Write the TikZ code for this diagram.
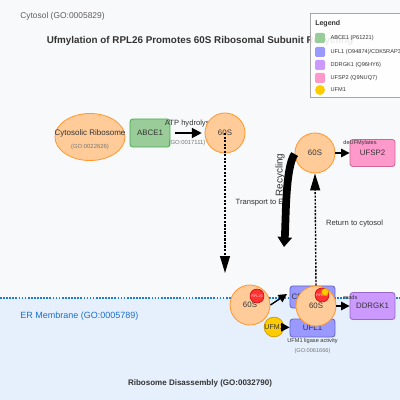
\documentclass[tikz,border=0pt]{standalone}
\usepackage{fontspec}
\setmainfont{Liberation Sans}
\usepackage{xcolor}
\usetikzlibrary{shapes,arrows.meta,positioning,calc}

\definecolor{bgcol}{HTML}{F8F9FB}
\definecolor{ercol}{HTML}{E6F0FC}
\definecolor{memcol}{HTML}{1E7BD8}
\definecolor{erlbl}{HTML}{1A6FD0}
\definecolor{ribofill}{HTML}{FFCC99}
\definecolor{riboline}{HTML}{FF9933}
\definecolor{abcefill}{HTML}{99CC99}
\definecolor{abceline}{HTML}{4CAF50}
\definecolor{uflfill}{HTML}{9999FF}
\definecolor{uflline}{HTML}{6666CC}
\definecolor{ddrfill}{HTML}{CC99FF}
\definecolor{ddrline}{HTML}{9966CC}
\definecolor{ufspfill}{HTML}{FF99CC}
\definecolor{ufspline}{HTML}{CC6699}
\definecolor{ufmfill}{HTML}{FFCC00}
\definecolor{ufmline}{HTML}{CC9900}
\definecolor{rplfill}{HTML}{FF3333}
\definecolor{rplline}{HTML}{CC0000}
\definecolor{txtcol}{HTML}{333333}
\definecolor{gocol}{HTML}{777777}

\begin{document}
\begin{tikzpicture}[x=0.025cm, y=-0.025cm,
    ribo/.style={circle, draw=riboline, fill=ribofill, line width=0.6pt, minimum size=1cm, inner sep=0pt, text=txtcol, font=\fontsize{5.6}{6.5}\selectfont},
    prot/.style={rectangle, rounded corners=2pt, line width=0.6pt, minimum width=1.125cm, minimum height=0.675cm, inner sep=0pt, text=txtcol, font=\fontsize{5.6}{6.5}\selectfont},
    rpl/.style={circle, draw=rplline, fill=rplfill, line width=0.4pt, minimum size=0.35cm, inner sep=0pt, text=white!80!rplfill, font=\fontsize{2.6}{3}\selectfont},
    golbl/.style={text=gocol, inner sep=0pt, font=\fontsize{4.2}{5}\selectfont},
    edgelbl/.style={text=txtcol, inner sep=0pt, font=\fontsize{5.4}{6}\selectfont},
    smalllbl/.style={text=txtcol, inner sep=0pt, font=\fontsize{4}{5}\selectfont},
    legbox/.style={rectangle, rounded corners=1pt, minimum size=0.25cm, inner sep=0pt},
    legtext/.style={text=txtcol, inner sep=0pt, font=\fontsize{4}{5}\selectfont},
    fatarrow/.style={line width=1.4pt, -{Triangle[length=7pt,width=7pt]}},
    dotarrow/.style={line width=1pt, dash pattern=on 1.5pt off 1pt, -{Triangle[length=12pt,width=7pt]}},
    midarrow/.style={line width=1pt, -{Triangle[length=6pt,width=6pt]}},
    recarrow/.style={line width=5.5pt, -{Triangle[length=7pt,width=10pt]}},
  ]
  % Background and compartments
  \fill[bgcol] (0,0) rectangle (400,400);
  \useasboundingbox (0,0) rectangle (400,400);
  \clip (0,0) rectangle (400,400);
  \fill[ercol] (0,298) rectangle (400,400);
  \draw[memcol, line width=1.4pt, dash pattern=on 1.2pt off 1pt] (0,298) -- (400,298);

  % Compartment labels and title
  \node[anchor=west, inner sep=0pt, text=gocol!80!black, font=\fontsize{6}{7}\selectfont] (cytosol) at (20,16) {Cytosol (GO:0005829)};
  \node[inner sep=0pt, text=txtcol, font=\bfseries\fontsize{7}{8}\selectfont] (title) at (200,41) {Ufmylation of RPL26 Promotes 60S Ribosomal Subunit Recycling};
  \node[anchor=west, inner sep=0pt, text=erlbl, font=\fontsize{6.4}{7}\selectfont] (erlabel) at (20,316) {ER Membrane (GO:0005789)};
  \node[inner sep=0pt, text=txtcol, font=\bfseries\fontsize{5.7}{7}\selectfont] (disasm) at (200,383) {Ribosome Disassembly (GO:0032790)};

  % Cytosolic ribosome and ABCE1
  \node[ribo, ellipse, minimum width=1.75cm, minimum height=1.175cm] (cytoribo) at (90,137) {};
  \node[inner sep=0pt, text=txtcol, font=\fontsize{5.7}{6.5}\selectfont] (cytolbl) at (90,133) {Cytosolic Ribosome};
  \node[golbl] (cytogo) at (90,147) {(GO:0022626)};
  \node[prot, fill=abcefill, draw=abceline, minimum width=1cm, minimum height=0.7cm] (abce) at (150,133) {ABCE1};
  \node[edgelbl] (atplbl) at (190,124) {ATP hydrolysis};
  \node[golbl] (atpgo) at (187,143) {(GO:0017111)};
  \node[ribo] (sixty1) at (225,133) {60S};
  \draw[fatarrow, shorten <=3.5pt, shorten >=2pt] (abce) -- (sixty1);

  % Transport to ER
  \coordinate (ertip) at (225,273);
  \draw[dotarrow] (sixty1.center) -- (ertip) node[edgelbl, midway, right=0.25cm] (translbl) {Transport to ER};

  % Recycled subunit and UFSP2
  \node[prot, fill=ufspfill, draw=ufspline] (ufsp) at (372.5,153) {UFSP2};
  \node[ribo] (sixty2) at (315,153) {60S};
  \draw[midarrow] (sixty2) -- (ufsp);
  \node[smalllbl] (delbl) at (360,143) {deUFMylates};

  % ER membrane complex
  \node[prot, fill=uflfill, draw=uflline, minimum height=0.55cm] (cdk) at (312.5,297) {CDK5RAP3};
  \node[prot, fill=uflfill, draw=uflline, minimum height=0.45cm] (ufl) at (312.5,328) {UFL1};
  \node[smalllbl] (ufllbl) at (312.5,341) {UFM1 ligase activity};
  \node[golbl, font=\fontsize{4}{5}\selectfont] (uflgo) at (312.5,351) {(GO:0061666)};
  \node[prot, fill=ddrfill, draw=ddrline] (ddrgk) at (372.5,306) {DDRGK1};
  \node[smalllbl, anchor=west] (readlbl) at (343,297) {reads};

  \node[ribo] (sixty3) at (250,305) {60S};
  \node[rpl] (rpla) at (257,296) {RPL26};
  \coordinate (cdktip) at (287,294);
  \draw[midarrow] (sixty3.east) -- (cdktip);

  \node[circle, draw=ufmline, fill=ufmfill, line width=0.5pt, minimum size=0.45cm, inner sep=0pt, text=txtcol, font=\fontsize{5}{6}\selectfont] (ufm) at (274,327) {UFM1};
  \draw[midarrow] (ufm) -- (ufl);

  \node[ribo] (sixty4) at (316,306) {60S};
  \node[rpl] (rplb) at (322,295) {RPL26};
  \node[circle, fill=ufmfill, draw=ufmline, line width=0.3pt, minimum size=0.175cm, inner sep=0pt] (ufmdot) at (325,292) {};
  \draw[midarrow] (sixty4) -- (ddrgk);

  % Return to cytosol
  \draw[dotarrow] (sixty4.north) -- (sixty2.south) node[edgelbl, pos=0.55, right=0.25cm] (retlbl) {Return to cytosol};

  % Recycling
  \coordinate (rectip) at (284,247);
  \draw[recarrow] (sixty2.183) .. controls (285,168) and (286,222) .. (rectip);
  \node[rotate=90, inner sep=0pt, text=txtcol, font=\fontsize{7}{8}\selectfont] (reclbl) at (280,175) {Recycling};

  % Legend
  \draw[draw=gray!70, fill=white, fill opacity=0.9, line width=0.5pt] (310,13) rectangle (410,97);
  \node[anchor=west, inner sep=0pt, text=txtcol, font=\bfseries\fontsize{5}{6}\selectfont] (legtitle) at (315,24) {Legend};
  \foreach \y/\col/\txt [count=\i] in {38/abcefill/ABCE1 (P61221), 52/uflfill/{UFL1 (O94874)/CDK5RAP3}, 65/ddrfill/DDRGK1 (Q96HY6), 78/ufspfill/UFSP2 (Q9NUQ7)} {
    \node[legbox, fill=\col] (sw\i) at (320,\y) {};
    \node[legtext, right=0.125cm of sw\i] (lt\i) {\txt};
  }
  \node[legbox, circle, fill=ufmfill] (sw5) at (320,90) {};
  \node[legtext, right=0.125cm of sw5] (lt5) {UFM1};
\end{tikzpicture}
\end{document}
